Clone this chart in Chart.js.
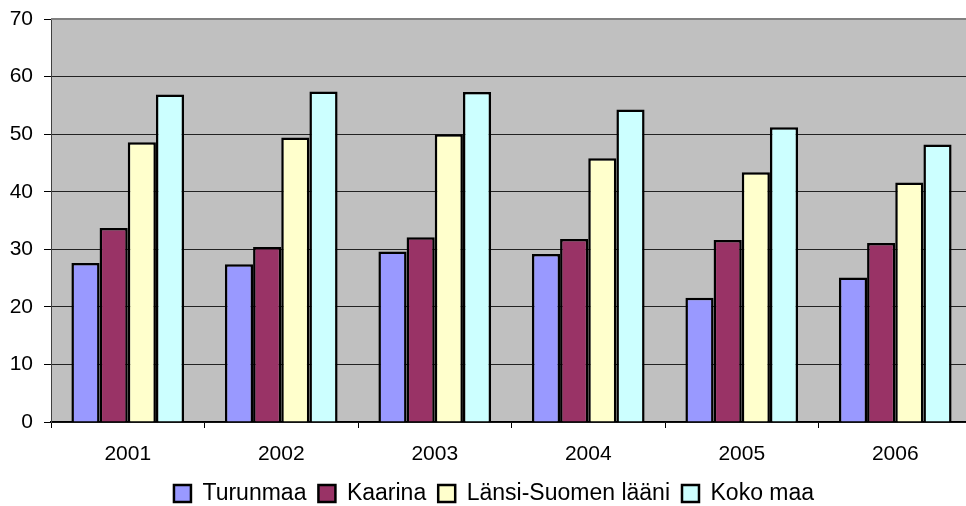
<!DOCTYPE html>
<html>
<head>
<meta charset="utf-8">
<script src="https://cdn.jsdelivr.net/npm/chart.js@4.4.1/dist/chart.umd.min.js"></script>
<style>
  html, body { margin: 0; padding: 0; overflow: hidden; background: #fff; }
  #wrap { position: relative; width: 993px; height: 506px; }
</style>
</head>
<body>
<div id="wrap"><canvas id="chart"></canvas></div>
<script>
// Datos
const years = ["2001", "2002", "2003", "2004", "2005", "2006"];
const turunmaa = [27.6, 27.4, 29.6, 29.2, 21.6, 25.1];
const kaarina = [33.7, 30.4, 32.1, 31.8, 31.6, 31.1];
const lansiSuomi = [48.6, 49.4, 50.0, 45.8, 43.4, 41.6];
const kokoMaa = [56.9, 57.4, 57.3, 54.3, 51.2, 48.2];
const seriesNames = ["Turunmaa", "Kaarina", "Länsi-Suomen lääni", "Koko maa"];
const seriesColors = ["#9999FF", "#993366", "#FFFFCC", "#CCFFFF"];

// Fondo gris del área de trazado + ajuste de la leyenda
const plotBg = {
  id: "plotBg",
  afterLayout(chart) {
    const lg = chart.legend;
    lg.left += 8;
    lg.right += 8;
    lg.top += 9;
    lg.bottom += 9;
  },
  beforeDraw(chart) {
    const { ctx, chartArea: a } = chart;
    ctx.save();
    ctx.fillStyle = "#C0C0C0";
    ctx.fillRect(a.left, a.top, a.right - a.left, a.bottom - a.top);
    ctx.restore();
  },
  afterDatasetsDraw(chart) {
    const { ctx, chartArea: a } = chart;
    ctx.save();
    ctx.strokeStyle = "#808080";
    ctx.lineWidth = 2;
    ctx.beginPath();
    ctx.moveTo(a.left, a.top);
    ctx.lineTo(a.right, a.top);
    ctx.stroke();
    ctx.restore();
  },
};

const values = [turunmaa, kaarina, lansiSuomi, kokoMaa];
const font = "'Liberation Sans', Arial, sans-serif";

new Chart(document.getElementById("chart"), {
  type: "bar",
  data: {
    labels: years,
    datasets: seriesNames.map((name, i) => ({
      label: name,
      data: values[i],
      backgroundColor: seriesColors[i],
      borderColor: "#000",
      borderWidth: 2.5,
      categoryPercentage: 0.734,
      barPercentage: 1.0,
    })),
  },
  options: {
    responsive: true,
    maintainAspectRatio: false,
    animation: false,
    layout: { padding: { left: 0, top: 19, right: 21, bottom: 0 } },
    plugins: {
      tooltip: { enabled: false },
      legend: {
        position: "bottom",
        labels: {
          color: "#000",
          font: { family: font, size: 23 },
          boxWidth: 17,
          boxHeight: 17,
          padding: 12,
        },
      },
    },
    scales: {
      x: {
        grid: {
          drawOnChartArea: false,
          drawTicks: true,
          tickLength: 6,
          tickColor: "#000",
        },
        border: { color: "#000", width: 1.5 },
        ticks: {
          color: "#000",
          padding: 14,
          font: { family: font, size: 21 },
        },
        afterFit(scale) {
          scale.height = 39;
        },
      },
      y: {
        min: 0,
        max: 70,
        ticks: {
          stepSize: 10,
          color: "#000",
          padding: 11,
          font: { family: font, size: 21 },
        },
        grid: {
          color: (c) => (c.tick && c.tick.value === 70 ? "rgba(0,0,0,0)" : "#222"),
          tickColor: "#000",
          tickLength: 7,
          lineWidth: 1,
        },
        border: { color: "#404040", width: 1 },
        afterFit(scale) {
          scale.width = 51;
          scale.paddingTop = 0;
          scale.paddingBottom = 0;
        },
      },
    },
  },
  plugins: [plotBg],
});
</script>
</body>
</html>
